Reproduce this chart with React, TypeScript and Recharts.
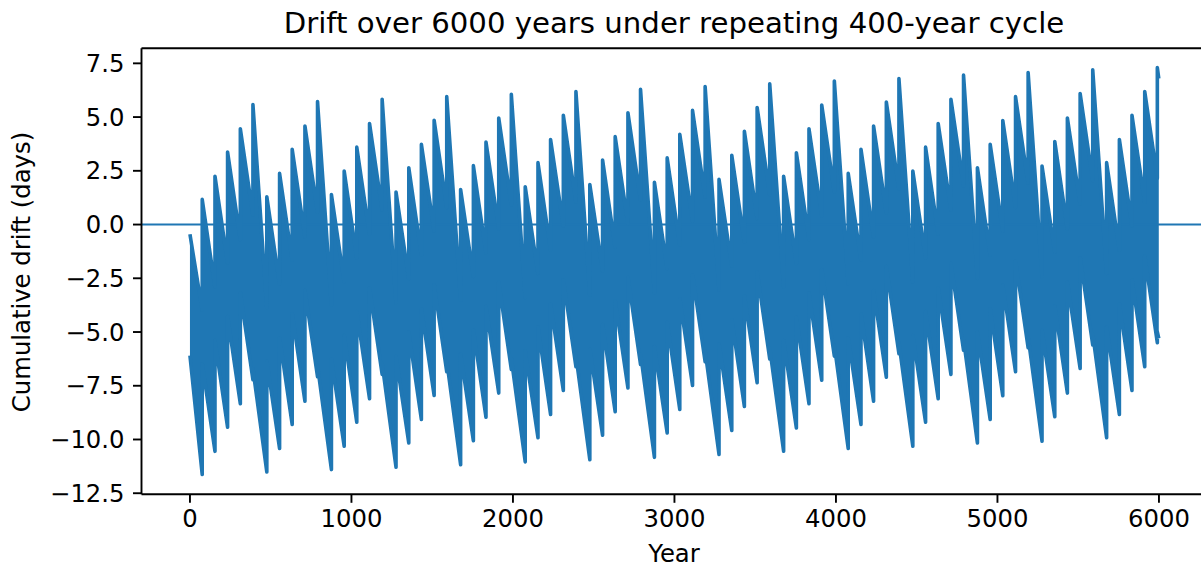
import React from "react"
import {
  ComposedChart,
  Area,
  Line,
  XAxis,
  YAxis,
  ReferenceLine,
} from "recharts"

// years where each visible tooth of the drift band rises (one 400-year cycle holds five)
const cycleStartYears = [76, 476, 876, 1276, 1676, 2076, 2476, 2876, 3276, 3676, 4076, 4476, 4876, 5276, 5676]
const toothOffsetYears = [0, 79, 157, 236, 314]

// top of each tooth (days), one row per 400-year cycle
const peakTops = [
  [1.17, 2.25, 3.37, 4.46, 5.58],
  [1.29, 2.38, 3.5, 4.58, 5.72],
  [1.4, 2.49, 3.6, 4.7, 5.83],
  [1.51, 2.64, 3.73, 4.85, 5.95],
  [1.63, 2.74, 3.84, 4.96, 6.06],
  [1.76, 2.88, 3.96, 5.08, 6.19],
  [1.86, 3.0, 4.09, 5.2, 6.29],
  [1.97, 3.1, 4.2, 5.31, 6.42],
  [2.1, 3.22, 4.34, 5.44, 6.55],
  [2.25, 3.34, 4.46, 5.56, 6.68],
  [2.38, 3.5, 4.58, 5.7, 6.79],
  [2.49, 3.6, 4.7, 5.83, 6.95],
  [2.64, 3.73, 4.84, 5.95, 7.07],
  [2.72, 3.86, 4.96, 6.1, 7.2],
  [2.88, 3.96, 5.08, 6.19, 7.3],
]

// bottom of the spike just before each tooth rises
const troughBottoms = [
  [-11.63, -10.55, -9.43, -8.34, -7.22],
  [-11.51, -10.42, -9.3, -8.22, -7.08],
  [-11.4, -10.31, -9.2, -8.1, -6.97],
  [-11.29, -10.16, -9.07, -7.95, -6.85],
  [-11.17, -10.06, -8.96, -7.84, -6.74],
  [-11.04, -9.92, -8.84, -7.72, -6.61],
  [-10.94, -9.8, -8.71, -7.6, -6.51],
  [-10.83, -9.7, -8.6, -7.49, -6.38],
  [-10.7, -9.58, -8.46, -7.36, -6.25],
  [-10.55, -9.46, -8.34, -7.24, -6.12],
  [-10.42, -9.3, -8.22, -7.1, -6.01],
  [-10.31, -9.2, -8.1, -6.97, -5.85],
  [-10.16, -9.07, -7.96, -6.85, -5.73],
  [-10.08, -8.94, -7.84, -6.7, -5.6],
  [-9.92, -8.84, -7.72, -6.61, -5.5],
]

// how far the upper edge rises at a tooth, and how deep the band reaches just after it
const toothRise = 5.15
const depthAfterTooth = [7.65, 7.65, 7.65, 7.65, 12.3]

const startBand = { year: 0, lo: -6.1, hi: -0.45 }
const endBand = { year: 5999, lo: -5.3, hi: 6.8 }

const xTicks = [0, 1000, 2000, 3000, 4000, 5000, 6000]
const yTicks = [-12.5, -10, -7.5, -5, -2.5, 0, 2.5, 5, 7.5]

const rows: { year: number; lo: number; hi: number; band: number[] }[] = []
const push = (year: number, lo: number, hi: number) => rows.push({ year, lo, hi, band: [lo, hi] })

push(startBand.year, startBand.lo, startBand.hi)
cycleStartYears.forEach((start, k) => {
  toothOffsetYears.forEach((off, j) => {
    const year = start + off
    const top = peakTops[k][j]
    push(year, troughBottoms[k][j], top - toothRise)
    push(year, top - depthAfterTooth[j], top)
  })
})
push(endBand.year, endBand.lo, endBand.hi)

const BLUE = "#1f77b4"
const FONT = "'DejaVu Sans', sans-serif"
const TICK_FONT = 24.3

const fmtY = (v: number) => (v < 0 ? "\u2212" : "") + Math.abs(v).toFixed(1)

export default function App() {
  return (
    <div
      style={{
        position: "fixed",
        left: 0,
        top: 0,
        width: 1201,
        height: 567,
        overflow: "hidden",
        background: "#fff",
        fontFamily: FONT,
      }}
    >
      <ComposedChart
        width={1215}
        height={567}
        data={rows}
        margin={{ top: 48.3, right: 7.6, bottom: 42.7, left: 0 }}
      >
        <XAxis
          dataKey="year"
          type="number"
          domain={[-300, 6300]}
          ticks={xTicks}
          allowDataOverflow
          height={30}
          tickSize={8.5}
          tickMargin={7}
          axisLine={{ stroke: "#000", strokeWidth: 1.9 }}
          tickLine={{ stroke: "#000", strokeWidth: 1.9 }}
          tick={{ fill: "#000", fontSize: TICK_FONT, fontFamily: FONT }}
        />
        <YAxis
          type="number"
          domain={[-12.55, 8.2]}
          ticks={yTicks}
          allowDataOverflow
          width={141.5}
          tickSize={8.5}
          tickMargin={8.5}
          tickFormatter={fmtY}
          axisLine={{ stroke: "#000", strokeWidth: 1.9 }}
          tickLine={{ stroke: "#000", strokeWidth: 1.9 }}
          tick={{ fill: "#000", fontSize: TICK_FONT, fontFamily: FONT }}
        />
        <ReferenceLine y={0} stroke={BLUE} strokeWidth={2} />
        <Area
          type="linear"
          dataKey="band"
          fill={BLUE}
          fillOpacity={1}
          stroke="none"
          isAnimationActive={false}
        />
        <Line
          type="linear"
          dataKey="hi"
          stroke={BLUE}
          strokeWidth={3.6}
          strokeLinejoin="round"
          dot={false}
          isAnimationActive={false}
        />
        <Line
          type="linear"
          dataKey="lo"
          stroke={BLUE}
          strokeWidth={3.6}
          strokeLinejoin="round"
          dot={false}
          isAnimationActive={false}
        />
        <ReferenceLine y={8.2} stroke="#000" strokeWidth={1.9} />
        <ReferenceLine x={6300} stroke="#000" strokeWidth={1.9} />
      </ComposedChart>
      <div
        style={{
          position: "absolute",
          left: 174,
          top: 6,
          width: 1000,
          height: 34,
          lineHeight: "34px",
          textAlign: "center",
          fontSize: 29.2,
          color: "#000",
        }}
      >
        Drift over 6000 years under repeating 400-year cycle
      </div>
      <div
        style={{
          position: "absolute",
          left: 574,
          top: 539,
          width: 200,
          height: 30,
          lineHeight: "30px",
          textAlign: "center",
          fontSize: TICK_FONT,
          color: "#000",
        }}
      >
        Year
      </div>
      <div
        style={{
          position: "absolute",
          left: 22 - 200,
          top: 272 - 15,
          width: 400,
          height: 30,
          lineHeight: "30px",
          textAlign: "center",
          fontSize: TICK_FONT,
          color: "#000",
          transform: "rotate(-90deg)",
        }}
      >
        Cumulative drift (days)
      </div>
    </div>
  )
}
